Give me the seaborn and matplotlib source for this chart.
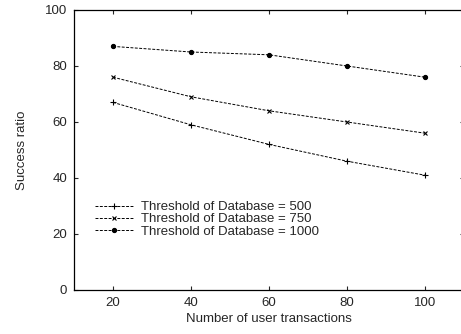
import matplotlib
matplotlib.use("Agg")
import matplotlib.pyplot as plt
import seaborn as sns
import pandas as pd

x_vals = [20, 40, 60, 80, 100]
s500 = [67, 59, 52, 46, 41]
s750 = [76, 69, 64, 60, 56]
s1000 = [87, 85, 84, 80, 76]
labels = ["Threshold of Database = 500", "Threshold of Database = 750", "Threshold of Database = 1000"]

sns.set_style("ticks")
plt.rcParams['font.family'] = ['Liberation Sans', 'DejaVu Sans']

fig = plt.figure(figsize=(4.61, 3.34), dpi=100)
ax = fig.add_axes([74/461, 44/334, 390/461, 280/334])

markers = ['+', 'x', 'o']
msizes = [4, 3.5, 3]
for vals, lab, m, ms in zip([s500, s750, s1000], labels, markers, msizes):
    df = pd.DataFrame({"x": x_vals, "y": vals})
    sns.lineplot(data=df, x="x", y="y", ax=ax, color="black", lw=0.7,
                 linestyle=(0, (3, 1.5)), marker=m, markersize=ms,
                 markeredgewidth=0.8, markeredgecolor="black", label=lab)

ax.set_xlim(10, 110)
ax.set_ylim(0, 100)
ax.set_xticks([20, 40, 60, 80, 100])
ax.set_yticks([0, 20, 40, 60, 80, 100])
ax.tick_params(direction='in', top=True, right=True, labelsize=9.5, length=3, width=0.8, pad=5)
for s in ax.spines.values():
    s.set_linewidth(0.9)
    s.set_color("black")
ax.set_xlabel("Number of user transactions", fontsize=9.5, labelpad=3)
ax.set_ylabel("Success ratio", fontsize=9.5, labelpad=12)

leg = ax.legend(loc="upper left", bbox_to_anchor=(95/461, 1 - 201/334),
                bbox_transform=fig.transFigure, frameon=False, fontsize=9.5,
                handlelength=2.9, handletextpad=0.6, labelspacing=0.0,
                borderpad=0, borderaxespad=0)

fig.savefig("out.png", dpi=100)
